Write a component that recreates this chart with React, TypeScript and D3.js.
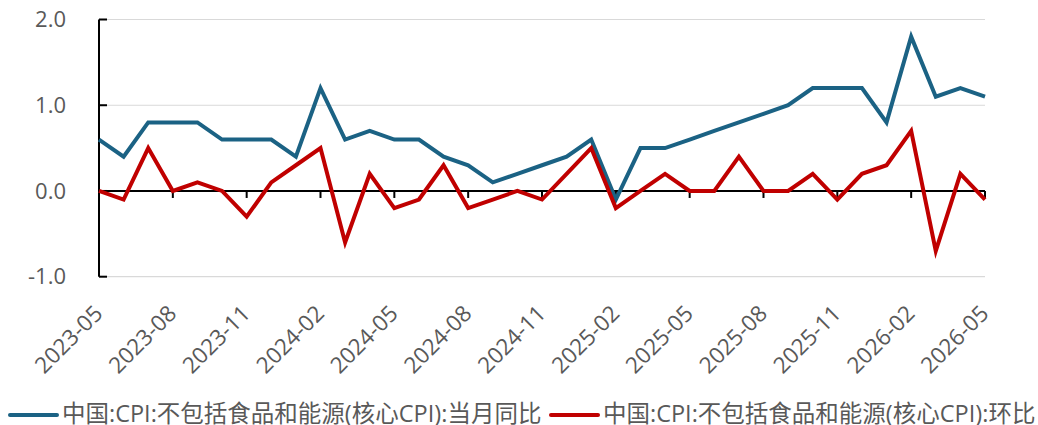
import React from 'react';
import * as d3 from 'd3';

// monthly, 2023-05 .. 2026-05
const months = [
  '2023-05', '2023-06', '2023-07', '2023-08', '2023-09', '2023-10', '2023-11', '2023-12',
  '2024-01', '2024-02', '2024-03', '2024-04', '2024-05', '2024-06', '2024-07', '2024-08',
  '2024-09', '2024-10', '2024-11', '2024-12', '2025-01', '2025-02', '2025-03', '2025-04',
  '2025-05', '2025-06', '2025-07', '2025-08', '2025-09', '2025-10', '2025-11', '2025-12',
  '2026-01', '2026-02', '2026-03', '2026-04', '2026-05',
];

const yoy = [
  0.6, 0.4, 0.8, 0.8, 0.8, 0.6, 0.6, 0.6,
  0.4, 1.2, 0.6, 0.7, 0.6, 0.6, 0.4, 0.3,
  0.1, 0.2, 0.3, 0.4, 0.6, -0.1, 0.5, 0.5,
  0.6, 0.7, 0.8, 0.9, 1.0, 1.2, 1.2, 1.2,
  0.8, 1.8, 1.1, 1.2, 1.1,
];

const mom = [
  0.0, -0.1, 0.5, 0.0, 0.1, 0.0, -0.3, 0.1,
  0.3, 0.5, -0.6, 0.2, -0.2, -0.1, 0.3, -0.2,
  -0.1, 0.0, -0.1, 0.2, 0.5, -0.2, 0.0, 0.2,
  0.0, 0.0, 0.4, 0.0, 0.0, 0.2, -0.1, 0.2,
  0.3, 0.7, -0.7, 0.2, -0.1,
];

const yTicks = [-1, 0, 1, 2];

const seriesNames = [
  '中国:CPI:不包括食品和能源(核心CPI):当月同比',
  '中国:CPI:不包括食品和能源(核心CPI):环比',
];
const seriesColors = ['#1B6284', '#C00000'];

const W = 1038;
const H = 425;
const FONT = '"Open Sans", "Noto Sans CJK SC", sans-serif';
const TEXT = '#595959';

export default function App() {
  const x = d3.scalePoint<string>().domain(months).range([99, 985]);
  const y = d3.scaleLinear().domain([-1, 2]).range([276.7, 19.5]);

  const line = d3.line<number>()
    .x((_, i) => x(months[i]) as number)
    .y(d => y(d));

  const tickMonths = months.filter((_, i) => i % 3 === 0);

  return (
    <svg width={W} height={H} style={{ position: 'absolute', left: 0, top: 0 }} fontFamily={FONT}>
      <rect width={W} height={H} fill="#fff" />

      {/* grid */}
      {yTicks.filter(t => t !== 0).map(t => (
        <line key={t} x1={99} x2={985} y1={y(t)} y2={y(t)} stroke="#d9d9d9" strokeWidth={1.2} />
      ))}

      {/* y axis */}
      <line x1={99} x2={99} y1={y(2)} y2={y(-1)} stroke="#000" strokeWidth={2} />
      {yTicks.map(t => (
        <g key={t}>
          <line x1={99} x2={107} y1={y(t)} y2={y(t)} stroke="#000" strokeWidth={2} />
          <text x={66} y={y(t)} dy="0.35em" textAnchor="end" fontSize={22} fill={TEXT}>
            {t.toFixed(1)}
          </text>
        </g>
      ))}

      {/* zero line with month ticks */}
      <line x1={99} x2={985} y1={y(0)} y2={y(0)} stroke="#000" strokeWidth={2} />
      {tickMonths.map(m => (
        <line key={m} x1={x(m)} x2={x(m)} y1={y(0)} y2={y(0) + 7} stroke="#000" strokeWidth={2} />
      ))}

      {/* series */}
      {[yoy, mom].map((s, i) => (
        <path key={i} d={line(s) ?? ''} fill="none" stroke={seriesColors[i]} strokeWidth={4}
          strokeLinejoin="miter" strokeMiterlimit={4} />
      ))}

      {/* x labels */}
      {tickMonths.map(m => (
        <text key={m} transform={`translate(${(x(m) as number) + 5},${315}) rotate(-45)`}
          textAnchor="end" fontSize={22.5} fill={TEXT}>
          {m}
        </text>
      ))}

      {/* legend */}
      <g>
        <line x1={10} x2={57} y1={415} y2={415} stroke={seriesColors[0]} strokeWidth={4} strokeLinecap="round" />
        <text x={62} y={414} dy="0.35em" fontSize={23.5} fill={TEXT}>{seriesNames[0]}</text>
        <line x1={551} x2={598} y1={415} y2={415} stroke={seriesColors[1]} strokeWidth={4} strokeLinecap="round" />
        <text x={603} y={414} dy="0.35em" fontSize={23.5} fill={TEXT}>{seriesNames[1]}</text>
      </g>
    </svg>
  );
}
